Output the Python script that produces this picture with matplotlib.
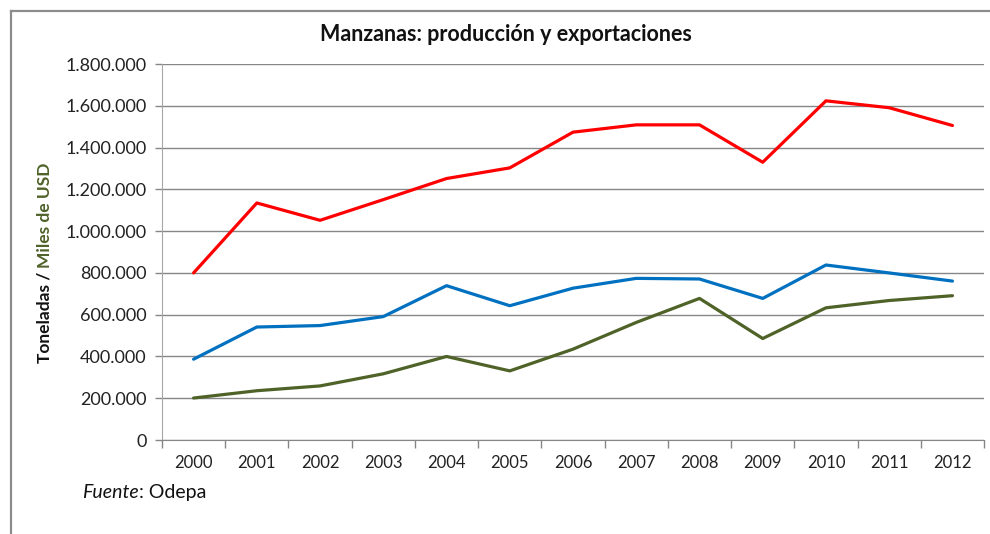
import numpy as np
import matplotlib.pyplot as plt
from matplotlib.lines import Line2D
from matplotlib.ticker import FuncFormatter

# Datos
anios = ['2000', '2001', '2002', '2003', '2004', '2005', '2006',
         '2007', '2008', '2009', '2010', '2011', '2012']
produccion = [800000, 1135000, 1052000, 1151000, 1252000, 1303000, 1474000,
              1509000, 1509000, 1330000, 1624000, 1591000, 1506000]
export_ton = [387000, 541000, 548000, 591000, 739000, 643000, 727000,
              774000, 771000, 678000, 838000, 800000, 761000]
export_usd = [201000, 236000, 259000, 317000, 400000, 331000, 435000,
              563000, 678000, 486000, 633000, 668000, 691000]

plt.rcParams['font.family'] = ['Lato', 'DejaVu Sans']

fig = plt.figure(figsize=(9.9, 5.34), dpi=100)
ax = fig.add_axes([0.1636, 0.176, 0.8304, 0.704])

x = np.arange(len(anios))
ax.plot(x, produccion, color='#FF0000', lw=2.3, solid_capstyle='round')
ax.plot(x, export_ton, color='#0070C0', lw=2.3, solid_capstyle='round')
ax.plot(x, export_usd, color='#4F6228', lw=2.3, solid_capstyle='round')

ax.set_xlim(-0.5, len(anios) - 0.5)
ax.set_ylim(0, 1800000)
ax.set_yticks(np.arange(0, 1800001, 200000))
ax.yaxis.set_major_formatter(FuncFormatter(lambda v, p: f"{int(v):,}".replace(",", ".")))
ax.set_xticks(x)
ax.set_xticklabels(anios)
ax.set_xticks(np.arange(-0.5, len(anios)), minor=True)
ax.tick_params(axis='x', which='major', length=0, pad=11, labelsize=12, labelcolor='#222222')
ax.tick_params(axis='x', which='minor', length=6, color='#868686', width=1)
ax.tick_params(axis='y', length=5, color='#868686', width=1, pad=6, labelsize=13, labelcolor='#222222')

ax.grid(axis='y', color='#868686', lw=1)
ax.set_axisbelow(True)
for s in ['top', 'right']:
    ax.spines[s].set_visible(False)
ax.spines['left'].set_color('#a6a6a6')
ax.spines['bottom'].set_color('#868686')

fig.text(0.511, 0.935, 'Manzanas: producción y exportaciones', ha='center', va='center',
         fontsize=15.5, fontweight='bold', color='#111111')

# Etiqueta del eje Y en dos colores
fig.canvas.draw()
r = fig.canvas.get_renderer()
t1 = fig.text(0.045, 0.0, 'Toneladas / ', rotation=90, ha='center', va='bottom',
              fontsize=12.5, fontweight='bold', color='#111111')
t2 = fig.text(0.045, 0.0, 'Miles de USD', rotation=90, ha='center', va='bottom',
              fontsize=12.5, fontweight='bold', color='#4F6228')
h1 = t1.get_window_extent(r).height / fig.bbox.height
h2 = t2.get_window_extent(r).height / fig.bbox.height
y0 = 0.508 - (h1 + h2) / 2
t1.set_y(y0)
t2.set_y(y0 + h1)

# Fuente
f1 = fig.text(0.083, 0.078, 'Fuente', style='italic', fontsize=14, ha='left', va='center', color='#111111')
w1 = f1.get_window_extent(r).width / fig.bbox.width
fig.text(0.083 + w1, 0.078, ': Odepa', fontsize=14, ha='left', va='center', color='#111111')

# Marco del gráfico
fig.add_artist(Line2D([0.0112, 1.0], [0.979, 0.979], color='#8c8c8c', lw=1.6))
fig.add_artist(Line2D([0.0112, 0.0112], [0.0, 0.979], color='#8c8c8c', lw=1.6))

fig.savefig('out.png', dpi=100)
